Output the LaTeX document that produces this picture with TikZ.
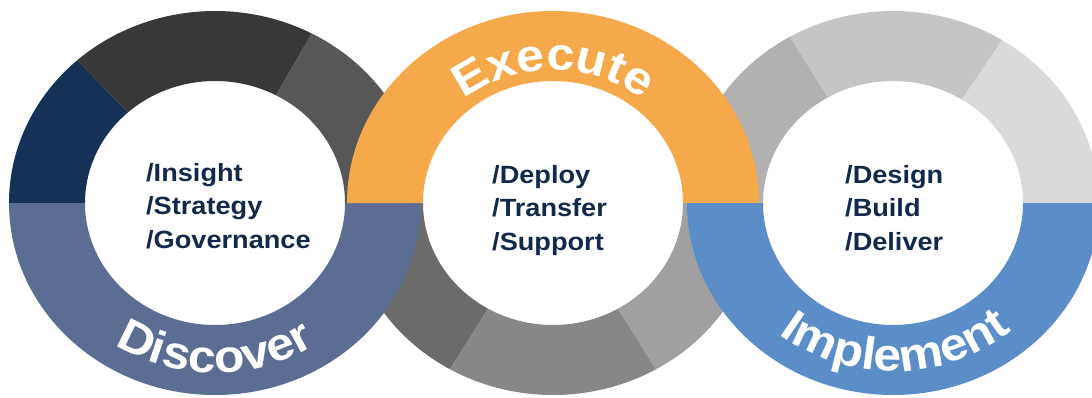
\documentclass[tikz,border=0pt]{standalone}
\usepackage{fontspec}
\setmainfont{Liberation Sans}
\newfontfamily\listfont{Liberation Sans}[FakeStretch=1.09]
\usetikzlibrary{calc,decorations.text}

\definecolor{textnavy}{HTML}{13294B}
\definecolor{segnavy}{HTML}{153157}
\definecolor{segdark}{HTML}{383838}
\definecolor{segmid}{HTML}{575757}
\definecolor{discoverblue}{HTML}{5B6D93}
\definecolor{executeorange}{HTML}{F5A94B}
\definecolor{segsteel}{HTML}{6B6B6B}
\definecolor{segstone}{HTML}{878787}
\definecolor{segsilver}{HTML}{A0A0A0}
\definecolor{segash}{HTML}{B1B1B1}
\definecolor{segmist}{HTML}{C5C5C5}
\definecolor{segcloud}{HTML}{DADADA}
\definecolor{implementblue}{HTML}{5B8DC8}

% one piece of a ring: centre, from angle, to angle, colour
\newcommand{\ringpart}[4]{%
  \fill[#4] ($(#1)+(#2:206bp and 192bp)$) arc[start angle=#2, end angle=#3, x radius=206bp, y radius=192bp]
    -- ($(#1)+(#3:130bp and 122bp)$) arc[start angle=#3, end angle=#2, x radius=130bp, y radius=122bp] -- cycle;}

\tikzset{
  listtext/.style={anchor=north west, inner sep=0pt, align=left, text=textnavy,
    font=\listfont\bfseries\fontsize{25}{33.5}\selectfont},
  ringlabel/.style={decorate, decoration={text along path, text align=center,
    text color=white, text={|\listfont\bfseries\fontsize{46}{46}\selectfont|#1}}}
}

\begin{document}
\begin{tikzpicture}[x=1bp, y=1bp]
                \useasboundingbox (0,0) rectangle (1092,397);
                \fill[white] (0,0) rectangle (1092,397);

                \coordinate (discover) at (215,194);
                \coordinate (execute) at (553,194);
                \coordinate (implement) at (893,194);

                % grey parts first
                \ringpart{discover}{132}{180}{segnavy}
                \ringpart{discover}{62}{132}{segdark}
                \ringpart{discover}{0}{62}{segmid}
                \ringpart{execute}{180}{240}{segsteel}
                \ringpart{execute}{240}{300}{segstone}
                \ringpart{execute}{300}{360}{segsilver}
                \ringpart{implement}{120}{180}{segash}
                \ringpart{implement}{58}{120}{segmist}
                \ringpart{implement}{0}{58}{segcloud}

                % coloured halves on top
                \ringpart{discover}{180}{360}{discoverblue}
                \ringpart{execute}{0}{180}{executeorange}
                \ringpart{implement}{180}{360}{implementblue}

                \path[ringlabel=Discover] ($(discover)+(220:182bp and 170bp)$)
                    arc[start angle=220, end angle=320, x radius=182bp, y radius=170bp];
                \path[ringlabel=Execute] ($(execute)+(140:142bp and 133bp)$)
                    arc[start angle=140, end angle=40, x radius=142bp, y radius=133bp];
                \path[ringlabel=Implement] ($(implement)+(220:182bp and 168bp)$)
                    arc[start angle=220, end angle=322, x radius=182bp, y radius=168bp];

                \node[listtext] (discoverlist) at (146,234) {/Insight\\/Strategy\\/Governance};
                \node[listtext] (executelist) at (492,232) {/Deploy\\/Transfer\\/Support};
                \node[listtext] (implementlist) at (845,232) {/Design\\/Build\\/Deliver};
            \end{tikzpicture}
\end{document}
